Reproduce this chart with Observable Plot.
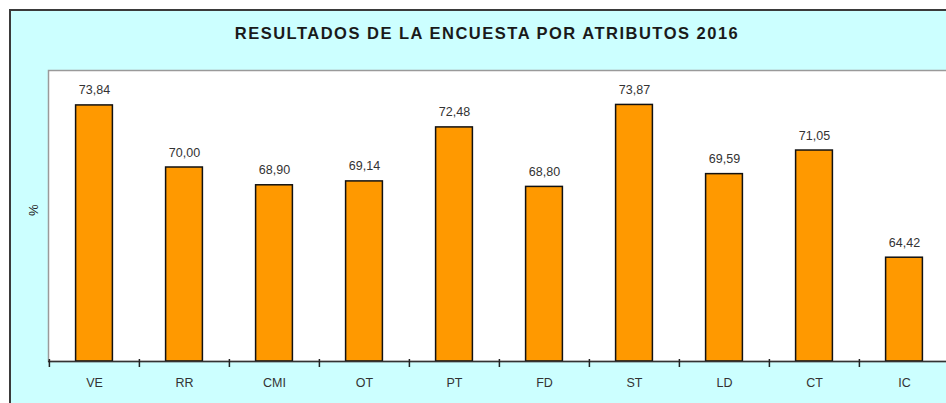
<!DOCTYPE html>
<html>
<head>
<meta charset="utf-8">
<script src="https://cdn.jsdelivr.net/npm/d3@7"></script>
<script src="https://cdn.jsdelivr.net/npm/@observablehq/plot@0.6"></script>
<style>
  html, body { margin: 0; padding: 0; background: #ffffff; overflow: hidden; width: 946px; height: 403px; }
  #box { position: absolute; left: 9px; top: 9px; width: 960px; height: 400px;
         background: #CCFFFF; border-top: 2px solid #3a3a3a; border-left: 2px solid #3a3a3a; }
  #title { position: absolute; left: 0; top: 13px; width: 952px; text-align: center;
           font-family: "Liberation Sans", Arial, sans-serif; font-weight: bold; font-size: 16.5px;
           letter-spacing: 1.5px; color: #1a1a1a; white-space: nowrap; }
  #chart { position: absolute; left: 0; top: 0; }
</style>
</head>
<body>
<div id="box"><div id="title">RESULTADOS DE LA ENCUESTA POR ATRIBUTOS 2016</div></div>
<div id="chart"></div>
<script>
const categories = ["VE", "RR", "CMI", "OT", "PT", "FD", "ST", "LD", "CT", "IC"];
const values = [73.84, 70.00, 68.90, 69.14, 72.48, 68.80, 73.87, 69.59, 71.05, 64.42];
const yMin = 58, yMax = 76;
const yLabel = "%";

const data = categories.map((c, i) => ({cat: c, value: values[i]}));
const fmt = v => v.toFixed(2).replace(".", ",");

const W = 960, H = 403, mL = 48, mR = 10, mT = 70, mB = 42;
const step = (W - mL - mR) / categories.length;
const barW = 37;

const chart = Plot.plot({
  width: W,
  height: H,
  marginLeft: mL,
  marginRight: mR,
  marginTop: mT,
  marginBottom: mB,
  style: {background: "transparent", maxWidth: "none", fontFamily: "'Liberation Sans', Arial, sans-serif"},
  x: {type: "band", domain: categories, padding: 0, label: null},
  y: {domain: [yMin, yMax], label: null},
  marks: [
    Plot.frame({fill: "white", stroke: "#9a9a9a", strokeWidth: 1.5}),
    Plot.barY(data, {x: "cat", y1: yMin, y2: "value", fill: "#FF9900", stroke: "#111", strokeWidth: 1.5,
      insetLeft: (step - barW) / 2, insetRight: (step - barW) / 2}),
    Plot.text(data, {x: "cat", y: "value", text: d => fmt(d.value), dy: -15, fontSize: 12.5, fill: "#333"}),
    Plot.ruleY([yMin], {stroke: "#333", strokeWidth: 1.5}),
    Plot.axisX({tickSize: 8, dy: -2, dx: -step / 2, tickFormat: () => "", label: null, stroke: "#222", strokeWidth: 1.5}),
    Plot.axisX({tickSize: 0, tickPadding: 17, fontSize: 12.5, fill: "#333", label: null}),
    Plot.axisY({ticks: [], label: null}),
    Plot.text([yLabel], {frameAnchor: "left", dx: -15, rotate: -90, fontSize: 13, fill: "#222"})
  ]
});
document.getElementById("chart").appendChild(chart);
</script>
</body>
</html>
